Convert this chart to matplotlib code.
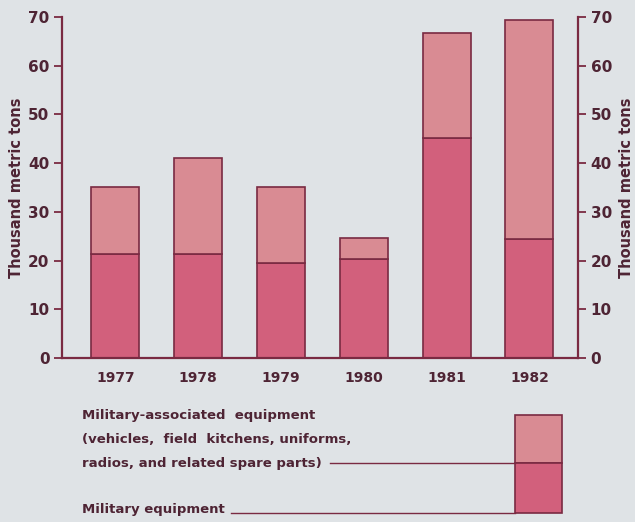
import matplotlib
matplotlib.use("Agg")
import matplotlib.pyplot as plt
from matplotlib.patches import Rectangle
from matplotlib.lines import Line2D
import numpy as np

years = ["1977", "1978", "1979", "1980", "1981", "1982"]
military = [21.3, 21.3, 19.4, 20.4, 45.1, 24.4]
total = [35.2, 41.1, 35.2, 24.6, 66.8, 69.3]
associated = [t - m for t, m in zip(total, military)]

bg = "#dfe3e6"
c_mil = "#d2607c"
c_assoc = "#d98b93"
edge = "#7a2a42"
ink = "#4e2434"

plt.rcParams['font.family'] = ['Liberation Sans Narrow', 'DejaVu Sans Condensed', 'DejaVu Sans']
plt.rcParams['font.weight'] = 'bold'
plt.rcParams['axes.labelweight'] = 'bold'

fig = plt.figure(figsize=(6.35, 5.22), dpi=100, facecolor=bg)
ax = fig.add_axes([62 / 635, 1 - 358 / 522, (578 - 62) / 635, (358 - 17) / 522])
ax.set_facecolor(bg)

x = np.arange(len(years))
ax.bar(x, military, width=0.58, color=c_mil, edgecolor=edge, linewidth=1.2)
ax.bar(x, associated, bottom=military, width=0.58, color=c_assoc,
       edgecolor=edge, linewidth=1.2)

ax.set_xlim(-0.646, 5.586)
ax.set_ylim(0, 70)
ax.set_xticks(x)
ax.set_xticklabels(years, fontsize=10, color=ink)
ax.tick_params(axis='x', length=0, pad=9)
ax.set_yticks(range(0, 71, 10))
ax.tick_params(axis='y', length=6, width=1.3, color=edge, labelsize=11,
               labelcolor=ink, pad=3)
ax.set_ylabel("Thousand metric tons", fontsize=10.5, color=ink)
ax.yaxis.set_label_coords(-(62 - 24) / 516, 0.5)
for s in ['top', 'right']:
    ax.spines[s].set_visible(False)
for s in ['left', 'bottom']:
    ax.spines[s].set_color(edge)
    ax.spines[s].set_linewidth(1.6)

ax2 = ax.twinx()
ax2.set_ylim(0, 70)
ax2.set_yticks(range(0, 71, 10))
ax2.tick_params(axis='y', length=6, width=1.3, color=edge, labelsize=11,
                labelcolor=ink, pad=3)
ax2.set_ylabel("Thousand metric tons", fontsize=10.5, color=ink)
ax2.yaxis.set_label_coords(1 + (619 - 578) / 516, 0.5)
for s in ['top', 'left', 'bottom']:
    ax2.spines[s].set_visible(False)
ax2.spines['right'].set_color(edge)
ax2.spines['right'].set_linewidth(1.6)

# legend drawn in figure pixels
def fx(px):
    return px / 635

def fy(py):
    return 1 - py / 522

legend_lines = ["Military-associated  equipment",
                "(vehicles,  field  kitchens, uniforms,",
                "radios, and related spare parts)"]
for i, txt in enumerate(legend_lines):
    fig.text(fx(82), fy(415 + i * 24.5), txt, fontsize=9.5, color=ink,
             va='center', ha='left')
fig.text(fx(82), fy(510), "Military equipment", fontsize=9.5, color=ink,
         va='center', ha='left')

fig.add_artist(Line2D([fx(330), fx(515)], [fy(463), fy(463)], color=edge, lw=1.0))
fig.add_artist(Line2D([fx(231), fx(515)], [fy(513), fy(513)], color=edge, lw=1.0))

fig.add_artist(Rectangle((fx(515), fy(463)), fx(562) - fx(515), fy(415) - fy(463),
                         transform=fig.transFigure, facecolor=c_assoc,
                         edgecolor=edge, lw=1.2))
fig.add_artist(Rectangle((fx(515), fy(513)), fx(562) - fx(515), fy(463) - fy(513),
                         transform=fig.transFigure, facecolor=c_mil,
                         edgecolor=edge, lw=1.2))

fig.savefig("out.png", dpi=100, facecolor=bg)
